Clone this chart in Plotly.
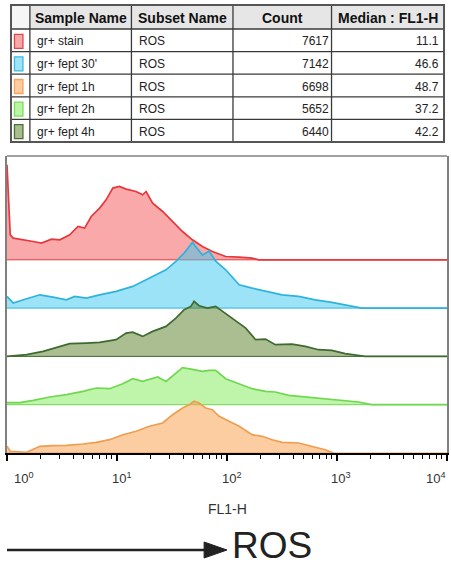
import plotly.graph_objects as go

# ---------------- table data ----------------
headers = ["", "Sample Name", "Subset Name", "Count", "Median : FL1-H"]
samples = ["gr+ stain", "gr+ fept 30'", "gr+ fept 1h", "gr+ fept 2h", "gr+ fept 4h"]
subsets = ["ROS", "ROS", "ROS", "ROS", "ROS"]
counts = [7617, 7142, 6698, 5652, 6440]
medians = ["11.1", "46.6", "48.7", "37.2", "42.2"]

# ---------------- histogram data (FL1-H value, relative count) ----------------
stain_x = [1.0, 1.03, 1.07, 1.14, 1.31, 1.51, 1.73, 2.06, 2.54, 3.02, 3.72, 4.42, 5.08, 5.83, 6.95, 7.96,
           9.16, 10.5, 12.1, 14.9, 17.1, 18.4, 21.1, 26.0, 32.0, 39.4, 48.5, 59.8, 73.6, 97.3, 129, 169, 195, 10000]
stain_y = [95, 60, 25, 21.7, 20.7, 20, 18.3, 16.7, 20.7, 20, 25, 33.3, 31.7, 43.3, 51.7, 60,
           71.7, 73.3, 70.7, 68.3, 65, 68.3, 56.7, 48.3, 38.3, 28.3, 20, 13.3, 8.3, 3.3, 2.7, 1.7, 0, 0]

fept30_x = [1.0, 1.14, 1.41, 1.99, 2.62, 3.47, 4.12, 5.26, 6.95, 9.82, 13.9, 17.1, 22.6, 27.9, 34.3, 40.8,
            48.5, 59.8, 68.7, 78.9, 97.3, 129, 169, 224, 317, 448, 634, 897, 1271, 1679, 10000]
fept30_y = [11.7, 5, 8.3, 13.3, 11, 8.3, 11.7, 10, 13.3, 16.7, 21.7, 26.7, 33.3, 38.3, 46.7, 55,
            65.7, 53, 57, 47, 38.3, 23.3, 20, 16.7, 13.3, 11.7, 8.3, 5.7, 2.3, 0, 0]

fept4h_x = [1.0, 1.51, 2.13, 3.02, 3.72, 5.26, 6.95, 9.82, 12.1, 13.9, 17.1, 21.1, 27.9, 34.3, 40.8, 46.9,
            50.2, 55.7, 66.4, 78.9, 90.8, 112, 148, 182, 224, 275, 390, 515, 679, 897, 1186, 1799, 10000]
fept4h_y = [0, 1.7, 5, 10, 12.7, 13.3, 14, 16.7, 23.3, 24.3, 20, 25, 30, 38.3, 46.7, 50,
            55, 50.7, 48.3, 50, 45, 38.3, 28.3, 16.7, 17.3, 11.7, 12.3, 10, 6.7, 6, 2.7, 0, 0]

fept2h_x = [1.0, 1.31, 1.73, 2.45, 3.47, 4.91, 6.47, 8.55, 11.3, 13.9, 17.1, 21.1, 23.4, 27.9, 34.3, 39.4,
            48.5, 59.8, 68.7, 78.9, 97.3, 129, 169, 224, 275, 364, 515, 729, 1107, 1567, 2065, 10000]
fept2h_y = [2, 2, 4.3, 7.7, 10, 13.3, 16.7, 16, 21, 26, 23.3, 26.7, 27.7, 23.3, 31, 37,
            35.3, 33.3, 34.3, 34.3, 26, 21, 16, 13.3, 12.7, 9.3, 7.7, 6, 4.3, 2.7, 0, 0]

fept1h_x = [1.0, 1.07, 1.51, 1.99, 2.62, 3.47, 4.91, 6.47, 8.55, 11.3, 14.9, 19.7, 26.0, 32.0, 39.4, 45.3,
            50.2, 55.7, 64.1, 73.6, 84.7, 104, 129, 169, 209, 257, 317, 448, 592, 782, 929]
fept1h_y = [6.7, 1.7, 0.7, 6.7, 7.3, 7.7, 9, 10.7, 13.3, 18.3, 21.7, 26.7, 30, 38.3, 45, 48.3,
            51.7, 50, 45, 43.3, 36.7, 31.7, 26.7, 18.3, 16.7, 13.3, 10.7, 10, 6.7, 3.3, 0]

tick_vals = [1, 10, 100, 1000, 10000]
tick_text = ["10<sup>0</sup>", "10<sup>1</sup>", "10<sup>2</sup>", "10<sup>3</sup>", "10<sup>4</sup>"]

# ---------------- styling ----------------
LANE = 48.3
# (x, y, lane index from bottom, line colour, fill rgba, swatch fill, swatch border)
series = [
    (stain_x, stain_y, 4, "#E8383C", "rgba(243,83,85,0.5)", "#F7A8AA", "#E04848"),
    (fept30_x, fept30_y, 3, "#2EB4DB", "rgba(60,200,240,0.5)", "#9FE3F7", "#3BB9E0"),
    (fept4h_x, fept4h_y, 2, "#3F6A2F", "rgba(85,125,35,0.5)", "#A8BE8F", "#4B6F38"),
    (fept2h_x, fept2h_y, 1, "#6FD84E", "rgba(125,235,85,0.5)", "#B9F5A4", "#79DD58"),
    (fept1h_x, fept1h_y, 0, "#EE9E52", "rgba(249,155,65,0.5)", "#FCCB9F", "#F2A460"),
]
swatch_order = [(s[5], s[6]) for s in [series[0], series[1], series[4], series[3], series[2]]]

W, H = 451, 567
L, R, T, B = 7, 449, 156, 453


def px2x(p):
    return (p - L) / (R - L)


def px2y(p):
    return (B - p) / (B - T)


fig = go.Figure()
for xs, ys, lane, lc, fc, _, _ in series:
    off = lane * LANE
    fig.add_trace(go.Scatter(x=[1, 10000], y=[off, off], mode="lines",
                             line=dict(color=lc, width=1), opacity=0.6,
                             hoverinfo="skip", showlegend=False))
    fig.add_trace(go.Scatter(x=xs, y=[off + v for v in ys], mode="lines",
                             line=dict(color=lc, width=1.7), fill="tonexty", fillcolor=fc,
                             showlegend=False))

minor_vals = [m * d for d in [1, 10, 100, 1000] for m in range(2, 10)]

fig.update_layout(
    width=W, height=H,
    margin=dict(l=L, r=W - R, t=T, b=H - B),
    paper_bgcolor="white", plot_bgcolor="white",
    xaxis=dict(type="log", range=[0, 4], showgrid=False, zeroline=False,
               showline=True, linecolor="black", linewidth=2,
               ticks="outside", tickvals=tick_vals, ticklen=6, tickwidth=1.5, tickcolor="black",
               showticklabels=False,
               minor=dict(ticks="outside", tickvals=minor_vals, ticklen=3.5, tickwidth=1.2,
                          tickcolor="black", showgrid=False)),
    yaxis=dict(range=[0, B - T], showgrid=False, zeroline=False, showticklabels=False,
               showline=True, linecolor="#808080", linewidth=1.5, mirror=True, ticks=""),
    font=dict(family="Liberation Sans, Arial, sans-serif", color="#222"),
)

shapes = []
annotations = []

# top frame line
shapes.append(dict(type="line", xref="paper", yref="paper", x0=0, x1=1, y0=1, y1=1,
                   line=dict(color="#808080", width=1.5)))

# tick labels
label_shift = [17, 5, 5, 4, -11]
for i, (t, s) in enumerate(zip(tick_text, label_shift)):
    annotations.append(dict(x=i, xref="x", y=px2y(468), yref="paper",
                            text=t, showarrow=False, xanchor="center", yanchor="top", xshift=s,
                            font=dict(size=13, color="#333")))
# axis title
annotations.append(dict(x=0.5, xref="paper", y=px2y(509), yref="paper", text="FL1-H",
                        showarrow=False, xanchor="center", yanchor="middle",
                        font=dict(size=14, color="#333")))

# ROS arrow
ay = 550
shapes.append(dict(type="line", xref="paper", yref="paper", x0=px2x(7), x1=px2x(210),
                   y0=px2y(ay), y1=px2y(ay), line=dict(color="#222", width=2.6)))
shapes.append(dict(type="path", xref="paper", yref="paper",
                   path=f"M {px2x(205)} {px2y(ay-8)} L {px2x(228)} {px2y(ay)} L {px2x(205)} {px2y(ay+8)} Z",
                   fillcolor="#222", line=dict(color="#222", width=1)))
annotations.append(dict(x=px2x(232), xref="paper", y=px2y(567), yref="paper", text="ROS",
                        showarrow=False, xanchor="left", yanchor="bottom", borderpad=0,
                        font=dict(size=37, color="#222")))

# ---------------- table ----------------
col_x = [11, 30, 132, 234, 333, 446]
row_y = [5, 29, 51.6, 74.2, 96.8, 119.4, 142]

# header fill
shapes.append(dict(type="rect", xref="paper", yref="paper", x0=px2x(col_x[0]), x1=px2x(col_x[1]),
                   y0=px2y(row_y[0]), y1=px2y(row_y[1]), fillcolor="#f6f6f6", line=dict(width=0)))
shapes.append(dict(type="rect", xref="paper", yref="paper", x0=px2x(col_x[1]), x1=px2x(col_x[-1]),
                   y0=px2y(row_y[0]), y1=px2y(row_y[1]), fillcolor="#e6e6e6", line=dict(width=0)))

for xc in col_x[1:-1]:
    shapes.append(dict(type="line", xref="paper", yref="paper", x0=px2x(xc), x1=px2x(xc),
                       y0=px2y(row_y[0]), y1=px2y(row_y[-1]), line=dict(color="#3a3a3a", width=1.3)))
for yr in row_y[1:-1]:
    shapes.append(dict(type="line", xref="paper", yref="paper", x0=px2x(col_x[0]), x1=px2x(col_x[-1]),
                       y0=px2y(yr), y1=px2y(yr), line=dict(color="#3a3a3a", width=1.3)))
shapes.append(dict(type="rect", xref="paper", yref="paper", x0=px2x(col_x[0]), x1=px2x(col_x[-1]),
                   y0=px2y(row_y[0]), y1=px2y(row_y[-1]), line=dict(color="#555", width=2)))

# header text
for i, h in enumerate(headers):
    if not h:
        continue
    annotations.append(dict(x=px2x((col_x[i] + col_x[i + 1]) / 2), xref="paper",
                            y=px2y((row_y[0] + row_y[1]) / 2 + 0.5), yref="paper",
                            text=f"<b>{h}</b>", showarrow=False, xanchor="center", yanchor="middle",
                            font=dict(size=14, color="#111")))

for r in range(len(samples)):
    cy = (row_y[r + 1] + row_y[r + 2]) / 2 + 1
    sf, sb = swatch_order[r]
    shapes.append(dict(type="rect", xref="paper", yref="paper", x0=px2x(14.5), x1=px2x(23),
                       y0=px2y(cy - 7), y1=px2y(cy + 7), fillcolor=sf, line=dict(color=sb, width=1.3)))
    annotations.append(dict(x=px2x(35), xref="paper", y=px2y(cy), yref="paper", text=samples[r],
                            showarrow=False, xanchor="left", yanchor="middle", font=dict(size=12, color="#222")))
    annotations.append(dict(x=px2x(138), xref="paper", y=px2y(cy), yref="paper", text=subsets[r],
                            showarrow=False, xanchor="left", yanchor="middle", font=dict(size=12, color="#222")))
    annotations.append(dict(x=px2x(332), xref="paper", y=px2y(cy), yref="paper", text=str(counts[r]),
                            showarrow=False, xanchor="right", yanchor="middle", font=dict(size=12, color="#222")))
    annotations.append(dict(x=px2x(443), xref="paper", y=px2y(cy), yref="paper", text=medians[r],
                            showarrow=False, xanchor="right", yanchor="middle", font=dict(size=12, color="#222")))

fig.update_layout(shapes=shapes, annotations=annotations)
fig.write_html("out.html", config={"displayModeBar": False},
               post_script="document.body.style.margin='0';document.body.style.overflow='hidden';")
